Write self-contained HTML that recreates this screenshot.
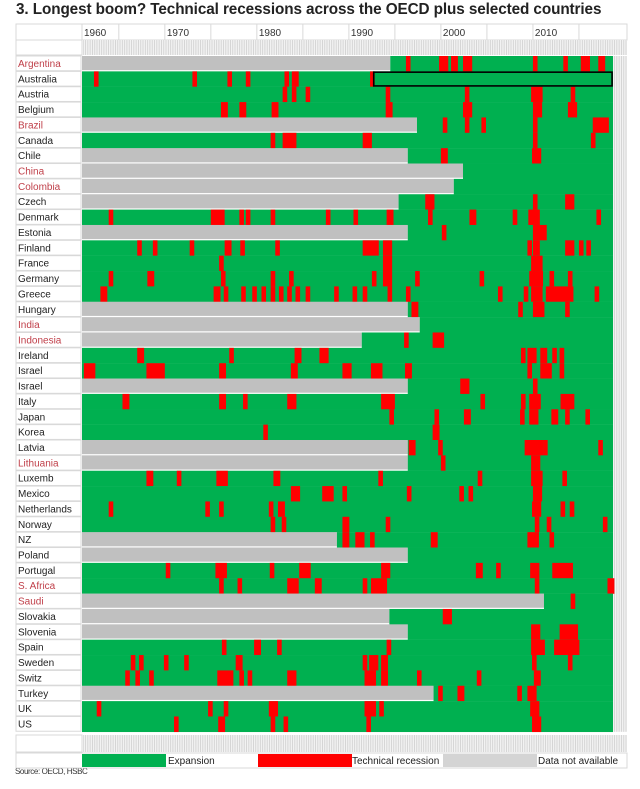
<!DOCTYPE html>
<html><head><meta charset="utf-8"><style>
body{margin:0;background:#fff;width:640px;height:789px;overflow:hidden;font-family:"Liberation Sans",Arial,sans-serif;}
#title{position:absolute;left:16px;top:1px;font-weight:bold;font-size:15.3px;color:#222;white-space:nowrap;letter-spacing:-0.1px}
#src{position:absolute;left:15px;top:767px;font-size:8px;color:#333;letter-spacing:-0.4px}
svg{position:absolute;left:0;top:0}
</style></head><body>
<div id="title">3. Longest boom? Technical recessions across the OECD plus selected countries</div>
<div id="src">Source: OECD, HSBC</div>
<svg id="chart" width="640" height="789">
<defs>
<pattern id="hatch" width="2.3" height="10" patternUnits="userSpaceOnUse"><rect width="2.3" height="10" fill="#f2f2f2"/><rect width="0.8" height="10" fill="#cfcfcf"/></pattern>
</defs>
</svg>
<script>
const countries=["Argentina","Australia","Austria","Belgium","Brazil","Canada","Chile","China","Colombia","Czech","Denmark","Estonia","Finland","France","Germany","Greece","Hungary","India","Indonesia","Ireland","Israel","Israel","Italy","Japan","Korea","Latvia","Lithuania","Luxemb","Mexico","Netherlands","Norway","NZ","Poland","Portugal","S. Africa","Saudi","Slovakia","Slovenia","Spain","Sweden","Switz","Turkey","UK","US"];
const emerging=["Argentina","Brazil","China","Colombia","India","Indonesia","Lithuania","S. Africa","Saudi"];
const dataStart=[1994.5,null,null,null,1997.4,null,1996.4,2002.4,2001.4,1995.4,null,1996.4,null,null,null,null,1996.4,1997.7,1991.4,null,null,1996.4,null,null,null,1996.4,1996.4,null,null,null,null,1988.7,1996.4,null,null,2011.2,1994.4,1996.4,null,null,null,1999.2,null,null];
const recessions=[
[[1996.2,2],[1999.8,4],[2001.1,3],[2002.4,4],[2010,2],[2013.3,2],[2015.2,4],[2017.1,3]],
[[1962.3,2],[1973,2],[1976.8,2],[1978.8,2],[1983,2],[1983.8,3],[1992.3,2]],
[[1982.8,2],[1983.8,2],[1985.3,2],[1994,2],[2002.6,2],[2009.8,5],[2014.1,2]],
[[1976.1,3],[1978.1,3],[1981.6,3],[1994,3],[2002.4,4],[2010,4],[2013.8,4]],
[[2000.2,2],[2002.6,2],[2004.4,2],[2010,2],[2016.5,7]],
[[1981.5,2],[1982.8,6],[1991.5,4],[2010,2],[2016.3,2]],
[[2000,3],[2009.9,4]],
[],
[],
[[1998.3,4],[2010,2],[2013.5,4]],
[[1963.9,2],[1975,6],[1978.1,2],[1978.8,2],[1981.5,2],[1987.5,2],[1990.5,2],[1994.1,3],[1998.6,2],[2003.1,3],[2007.8,2],[2009.5,5],[2016.9,2]],
[[2000.1,2],[2010,6]],
[[1967,2],[1968.7,2],[1972.7,2],[1976.5,3],[1978.2,2],[1982,2],[1991.5,7],[1993.7,4],[2009.4,2],[2010,3],[2013.5,4],[2015,2],[2015.8,2]],
[[1975.9,2],[1993.7,4],[2009.8,5]],
[[1963.9,2],[1968.1,3],[1976.1,2],[1981.5,2],[1983.5,2],[1992.5,2],[1993.7,4],[1997.2,2],[2004.2,2],[2009.6,6],[2011.8,2],[2013.8,2]],
[[1963,3],[1975.3,3],[1976.4,2],[1978.3,2],[1979.5,2],[1980.5,2],[1981.5,2],[1982.4,2],[1983.3,2],[1984.2,2],[1985.3,2],[1988.4,2],[1990.4,2],[1991.5,2],[1994.2,2],[1996.2,2],[2006.2,2],[2009,2],[2009.8,5],[2011.4,12],[2016.7,2]],
[[1996.8,3],[2008.4,2],[2010,5],[2013.5,2]],
[],
[[1996,2],[1999.1,5]],
[[1967,3],[1977,2],[1984.1,3],[1986.8,4],[2008.7,2],[2009.4,4],[2010.8,3],[2012.1,2],[2012.9,2]],
[[1961.2,5],[1968,8],[1975.9,3],[1983.7,3],[1989.3,4],[1992.4,5],[1996.1,3],[2009.4,2],[2010.8,5],[2012.9,2]],
[[2002.1,4],[2010,2]],
[[1965.4,3],[1975.9,3],[1978.5,2],[1983.3,4],[1993.5,6],[2004.3,2],[2008.7,2],[2009.6,5],[2013,6]],
[[1994.4,2],[1999.3,2],[2002.5,3],[2008.6,2],[2009.6,4],[2012,3],[2013.5,2],[2015.7,2]],
[[1980.7,2],[1999.1,3]],
[[1996.5,3],[1999.7,2],[2009.1,8],[2011.1,2],[2017.1,2]],
[[2000,2],[2009.8,4]],
[[1968,3],[1971.3,2],[1975.6,5],[1981.8,3],[1993.2,2],[2004,2],[2009.8,5],[2013.2,2]],
[[1983.7,4],[1987.1,5],[1989.3,2],[1996.3,2],[2002,2],[2003,2],[2010,4]],
[[1963.9,2],[1974.4,2],[1975.9,2],[1981.3,2],[1982.3,3],[2009.9,4],[2013,2],[2014,2]],
[[1981.5,2],[1982.7,2],[1989.3,3],[1994,2],[2010.2,2],[2011.5,2],[2017.6,2]],
[[1989.3,3],[1990.7,4],[1992.3,2],[1998.9,3],[2009.4,5],[2011.8,2]],
[],
[[1970.1,2],[1975.5,5],[1981.4,2],[1984.6,5],[1993.5,4],[2003.8,3],[2006,2],[2009.7,4],[2012.1,9]],
[[1975.9,2],[1977.9,2],[1983.3,5],[1986.3,3],[1991.5,2],[1992.4,7],[2010.2,2],[2018.1,3]],
[[2014.1,2]],
[[2000.2,4]],
[[2009.8,4],[2012.9,8]],
[[1976.2,2],[1979.7,3],[1982.2,2],[1994.1,2],[2009.8,6],[2012.3,11]],
[[1966.3,2],[1967.2,2],[1969.9,2],[1972.1,2],[1977.7,3],[1991.5,2],[1992.2,4],[1993.5,3],[2009.9,2],[2013.8,2]],
[[1965.7,2],[1966.8,2],[1968.3,2],[1975.7,7],[1978.1,2],[1979,2],[1983.3,4],[1991.7,5],[1993.5,3],[1997.4,2],[2003.9,2],[2010.1,3]],
[[1999.7,2],[2001.8,3],[2008.3,2],[2009.4,4]],
[[1962.6,2],[1974.7,2],[1976.4,2],[1981.3,4],[1991.7,5],[1993.3,2],[2009.7,4]],
[[1971,2],[1975.8,3],[1981.5,2],[1982.9,2],[1991.9,2],[2009.9,4]]
];
const tickYears=[1960,1970,1980,1990,2000,2010];
const tickLabels=["1960","1970","1980","1990","2000","2010"];
const highlight={row:1,start:1992.7,end:2018.6};
const legendLabels=["Expansion","Technical recession","Data not available"];

const NS="http://www.w3.org/2000/svg";
const svg=document.getElementById('chart');
const Y0=1961,Y1=2018.7,X0=82,X1=613;
const xs=y=>X0+(y-Y0)*(X1-X0)/(Y1-Y0);
const qw=(X1-X0)/(Y1-Y0)/4;
const ROW0=56,PITCH=15.36;
const rowY=i=>ROW0+i*PITCH;
function mk(t,a){const e=document.createElementNS(NS,t);for(const k in a)e.setAttribute(k,a[k]);svg.appendChild(e);return e;}

let e=mk('rect',{x:16,y:24,width:611,height:16,fill:'#fff',stroke:'#d9d9d9','stroke-width':1});


mk('line',{x1:X0,y1:24,x2:X0,y2:40,stroke:'#d9d9d9'});
tickYears.forEach((yr,i)=>{
  const gx=Math.max(X0,xs(yr));
  mk('line',{x1:gx,y1:24,x2:gx,y2:40,stroke:'#d9d9d9'});
  const mx=xs(yr+5);
  if(mx<627) mk('line',{x1:mx,y1:24,x2:mx,y2:40,stroke:'#d9d9d9'});
  const t=mk('text',{x:gx+2,y:36,'font-size':10,fill:'#333','font-family':'Liberation Sans, sans-serif'});
  t.textContent=tickLabels[i];
  
  
});
mk('rect',{x:16,y:40,width:66,height:15,fill:'#fff',stroke:'#d9d9d9'});
mk('rect',{x:X0,y:40,width:627-X0,height:15,fill:'url(#hatch)'});
mk('rect',{x:X1,y:ROW0,width:627-X1,height:rowY(countries.length)-ROW0,fill:'url(#hatch)'});
mk('rect',{x:16,y:735,width:66,height:17,fill:'#fff',stroke:'#d9d9d9'});
mk('rect',{x:X0,y:735,width:627-X0,height:17,fill:'url(#hatch)'});

countries.forEach((c,i)=>{
  const y=rowY(i),h=PITCH-1.2;
  const lb=mk('rect',{x:16,y:y,width:65,height:h+0.6,fill:'#fff',stroke:'#d9d9d9','stroke-width':1});
  
  
  const t=mk('text',{x:18,y:y+11,'font-size':10,fill:emerging.includes(c)?'#c0404a':'#222','font-family':'Liberation Sans, sans-serif'});
  t.textContent=c;
  
  
  const ds=dataStart[i];
  const gEnd=ds===null?X0:xs(ds);
  if(ds!==null){
    const g=mk('rect',{x:X0,y:y,width:gEnd-X0,height:h,fill:'#c0c0c0'});
    
    
  }
  const gr=mk('rect',{x:gEnd,y:y,width:X1-gEnd,height:PITCH+0.2,fill:'#00b050'});
  
  
  recessions[i].forEach(r=>{
    const rx=xs(r[0]);
    const rr=mk('rect',{x:rx,y:y,width:r[1]*qw,height:PITCH+0.2,fill:'#ff0000'});
    
    
  });
});
const hb=mk('rect',{x:xs(highlight.start),y:rowY(highlight.row)+0.8,width:xs(highlight.end)-xs(highlight.start),height:PITCH-1.6,fill:'none',stroke:'#000','stroke-width':1.6});



mk('rect',{x:16,y:753,width:611,height:15,fill:'#fff',stroke:'#d9d9d9'});
const lg=[[82,166,'#00b050',legendLabels[0],168],[258,352,'#ff0000',legendLabels[1],352],[443,537,'#d4d4d4',null,0]];
lg.forEach((l,i)=>{
  const r=mk('rect',{x:l[0],y:754,width:l[1]-l[0],height:13,fill:l[2]});
  
  
  if(l[3]){const t=mk('text',{x:l[4],y:764,'font-size':10,fill:'#222','font-family':'Liberation Sans, sans-serif'});t.textContent=l[3];
  
  }
});
const lt=mk('text',{x:538,y:764,'font-size':10,fill:'#222','font-family':'Liberation Sans, sans-serif'});
lt.textContent=legendLabels[2];


</script>
</body></html>
